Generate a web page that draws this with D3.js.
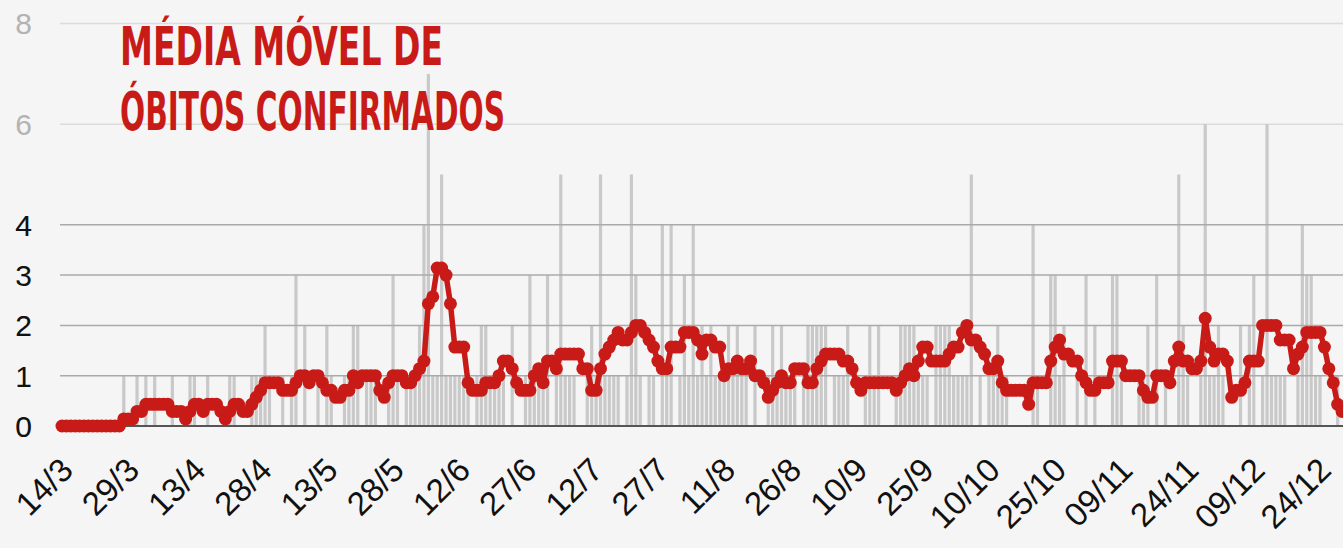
<!DOCTYPE html>
<html>
<head>
<meta charset="utf-8">
<script src="https://cdn.jsdelivr.net/npm/d3@7"></script>
<style>
  html, body { margin: 0; padding: 0; background: #f5f5f5; }
  svg { display: block; }
</style>
</head>
<body>
<script>
// obitos diarios, a partir de 14/3 (um valor por dia)
const obitos = [
  0,0,0,0,0,0,0,0,0,0,0,0,0,0,1,0,0,1,0,1,0,1,0,0,0,
  1,0,0,0,1,1,0,0,1,0,0,0,0,1,1,0,0,0,1,1,1,2,1,0,0,
  1,0,1,3,0,2,0,0,1,0,2,1,0,0,1,1,2,2,0,1,1,1,0,0,1,
  3,1,0,1,1,1,2,4,7,1,1,5,1,1,1,1,1,1,0,1,2,2,1,1,1,
  1,0,2,0,0,1,3,1,1,1,3,0,1,5,1,1,1,0,0,1,2,1,5,1,1,
  1,1,0,1,5,3,1,0,1,1,0,4,1,4,0,1,3,1,4,1,2,1,2,1,1,
  1,2,1,2,1,1,0,2,0,0,1,2,1,2,1,1,1,0,1,2,2,2,2,2,0,
  1,1,1,2,0,0,0,1,2,1,2,0,0,0,1,2,2,2,2,1,1,1,0,2,2,
  2,2,1,1,1,1,5,0,1,0,1,1,2,1,1,0,0,0,0,0,4,1,0,0,3,
  3,1,2,0,0,1,0,3,0,2,0,0,0,3,3,1,0,0,0,1,1,2,0,3,0,
  1,0,0,5,2,1,0,0,1,6,1,1,2,1,0,0,0,2,0,2,3,0,1,6,1,
  1,1,1,0,0,1,4,3,3,1,1,0,0,0,1,0
];

// media movel
const mediaMovel = [
  0,0,0,0,0,0,0,0,0,0,0,0,0,0,0.14,0.14,0.14,0.29,0.29,0.43,0.43,0.43,0.43,0.43,0.43,
  0.29,0.29,0.29,0.14,0.29,0.43,0.43,0.29,0.43,0.43,0.43,0.29,0.14,0.29,0.43,0.43,0.29,0.29,0.43,0.57,0.71,0.86,0.86,0.86,0.86,
  0.71,0.71,0.71,0.86,1,1,0.86,1,1,0.86,0.71,0.71,0.57,0.57,0.71,0.71,1,0.86,1,1,1,1,0.71,0.57,0.86,
  1,1,1,0.86,0.86,1,1.14,1.29,2.43,2.57,3.14,3.14,3,2.43,1.57,1.57,1.57,0.86,0.71,0.71,0.71,0.86,0.86,0.86,1,
  1.29,1.29,1.14,0.86,0.71,0.71,0.71,1,1.14,0.86,1.29,1.29,1.14,1.43,1.43,1.43,1.43,1.43,1.14,1.14,0.71,0.71,1.14,1.43,1.57,
  1.71,1.86,1.71,1.71,1.86,2,2,1.86,1.71,1.57,1.29,1.14,1.14,1.57,1.57,1.57,1.86,1.86,1.86,1.71,1.43,1.71,1.71,1.57,1.57,
  1,1.14,1.14,1.29,1.14,1.14,1.29,1,1,0.86,0.57,0.71,0.86,1,0.86,0.86,1.14,1.14,1.14,0.86,0.86,1.14,1.29,1.43,1.43,
  1.43,1.43,1.29,1.29,1.14,0.86,0.71,0.86,0.86,0.86,0.86,0.86,0.86,0.86,0.71,0.86,1,1.14,1,1.29,1.57,1.57,1.29,1.29,1.29,
  1.29,1.43,1.57,1.57,1.86,2,1.71,1.71,1.57,1.43,1.14,1.14,1.29,0.86,0.71,0.71,0.71,0.71,0.71,0.43,0.86,0.86,0.86,0.86,1.29,
  1.57,1.71,1.43,1.43,1.29,1.29,1,0.86,0.71,0.71,0.86,0.86,0.86,1.29,1.29,1.29,1,1,1,1,0.71,0.57,0.57,1,1,
  1,0.86,1.29,1.57,1.29,1.29,1.14,1.14,1.29,2.14,1.57,1.29,1.43,1.43,1.29,0.57,0.71,0.71,0.86,1.29,1.29,1.29,2,2,2,
  2,1.71,1.71,1.71,1.14,1.43,1.57,1.86,1.86,1.86,1.86,1.57,1.14,0.86,0.43,0.29
];

const rotulos = ["14/3","29/3","13/4","28/4","13/5","28/5","12/6","27/6","12/7","27/7",
  "11/8","26/8","10/9","25/9","10/10","25/10","09/11","24/11","09/12","24/12"];
const ticksBarras = [0, 2, 4, 6, 8];   // eixo das barras (cinza)
const ticksLinha = [0, 1, 2, 3, 4];    // eixo da media (preto)
const titulo = ["MÉDIA MÓVEL DE", "ÓBITOS CONFIRMADOS"];

const width = 1343, height = 548;
const vermelho = "#c81b17";

const svg = d3.select("body").append("svg")
  .attr("width", width)
  .attr("height", height);

svg.append("rect").attr("width", width).attr("height", height).attr("fill", "#f5f5f5");

const x = d3.scaleLinear().domain([0, 285]).range([62, 1320]);
const y = d3.scaleLinear().domain([0, 8]).range([426, 23.6]);

// grade
svg.append("g").selectAll("line")
  .data([6, 8]).join("line")
  .attr("x1", 60).attr("x2", width)
  .attr("y1", d => y(d)).attr("y2", d => y(d))
  .attr("stroke", "#dcdcdc").attr("stroke-width", 1.5);

// barras diarias
svg.append("g").selectAll("rect")
  .data(obitos).join("rect")
  .attr("x", (d, i) => x(i) - 1.6)
  .attr("width", 3.2)
  .attr("y", d => y(d))
  .attr("height", d => y(0) - y(d))
  .attr("fill", "#c9c9c9");

svg.append("g").selectAll("line")
  .data([1, 2, 3, 4]).join("line")
  .attr("x1", 60).attr("x2", width)
  .attr("y1", d => y(d)).attr("y2", d => y(d))
  .attr("stroke", "#aaaaaa").attr("stroke-width", 1.5);

// linha de base
svg.append("line")
  .attr("x1", 60).attr("x2", width)
  .attr("y1", y(0)).attr("y2", y(0))
  .attr("stroke", "#555").attr("stroke-width", 2);

// rotulos do eixo y
svg.append("g").selectAll("text")
  .data(ticksBarras).join("text")
  .attr("x", 32).attr("y", d => y(d))
  .attr("dy", "0.36em")
  .attr("text-anchor", "end")
  .attr("font-family", "Liberation Sans, Arial, sans-serif")
  .attr("font-size", 30)
  .attr("fill", "#b3b3b3")
  .text(d => d);

svg.append("g").selectAll("text")
  .data(ticksLinha).join("text")
  .attr("x", 32).attr("y", d => y(d))
  .attr("dy", "0.36em")
  .attr("text-anchor", "end")
  .attr("font-family", "Liberation Sans, Arial, sans-serif")
  .attr("font-size", 30)
  .attr("fill", "#111")
  .text(d => d);

// rotulos do eixo x
svg.append("g").selectAll("text")
  .data(rotulos).join("text")
  .attr("transform", (d, i) => `translate(${x(i * 15) + 13},${472}) rotate(-45)`)
  .attr("text-anchor", "end")
  .attr("font-family", "Liberation Sans, Arial, sans-serif")
  .attr("font-size", 33)
  .attr("fill", "#111")
  .text(d => d);

// media movel
const linha = d3.line()
  .x((d, i) => x(i))
  .y(d => y(d));

svg.append("path")
  .datum(mediaMovel)
  .attr("d", linha)
  .attr("fill", "none")
  .attr("stroke", vermelho)
  .attr("stroke-width", 5.5)
  .attr("stroke-linejoin", "round");

svg.append("g").selectAll("circle")
  .data(mediaMovel).join("circle")
  .attr("cx", (d, i) => x(i))
  .attr("cy", d => y(d))
  .attr("r", 6.5)
  .attr("fill", vermelho);

// titulo
svg.append("g").selectAll("text")
  .data(titulo).join("text")
  .attr("x", 120)
  .attr("y", (d, i) => 65 + i * 65)
  .attr("textLength", (d, i) => i == 0 ? 323 : 385)
  .attr("lengthAdjust", "spacingAndGlyphs")
  .attr("font-family", "Liberation Sans Narrow, DejaVu Sans Condensed, sans-serif")
  .attr("font-weight", "bold")
  .attr("font-size", 53)
  .attr("fill", vermelho)
  .text(d => d);
</script>
</body>
</html>
